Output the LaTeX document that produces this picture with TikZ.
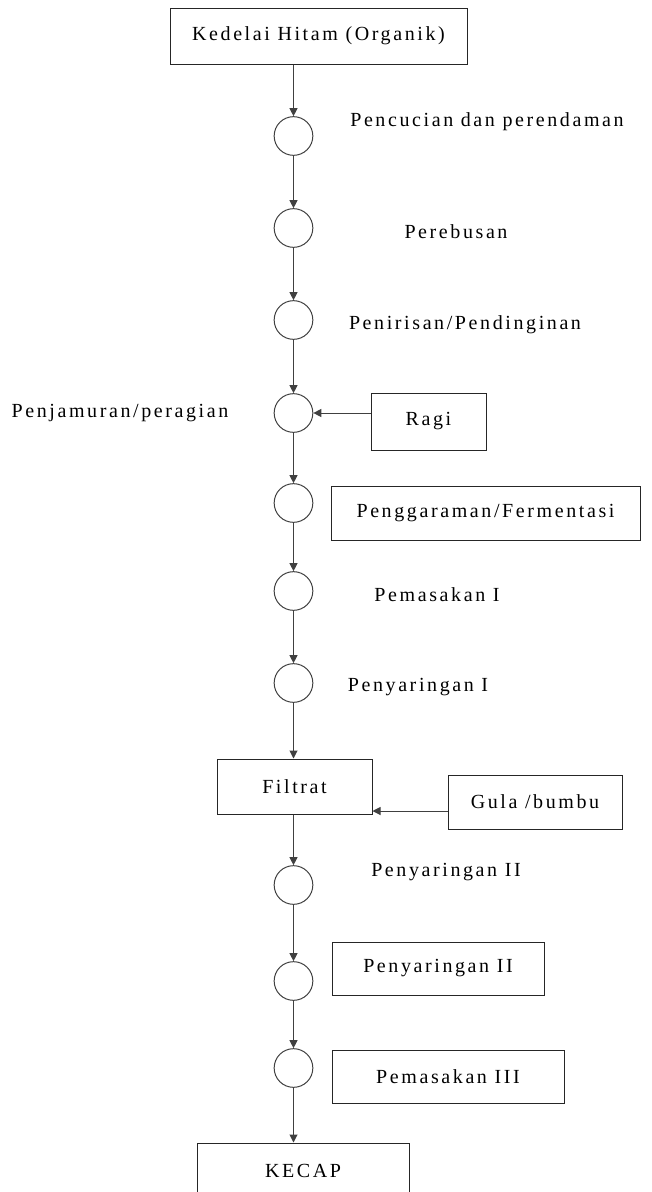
\documentclass[tikz,border=0pt]{standalone}
\usepackage{fontspec}
\setmainfont[LetterSpace=13]{Liberation Serif}
\usetikzlibrary{arrows.meta}

\tikzset{every picture/.style={line width=0.75pt}}

\begin{document}
\begin{tikzpicture}[x=0.75pt,y=0.75pt,yscale=-1,xscale=1,
  font=\fontsize{15}{18}\selectfont,
  proc/.style={draw=black!75, circle, minimum size=29pt, inner sep=0pt},
  box/.style={draw=black!85, rectangle, inner sep=0pt},
  flow/.style={draw=black!75, -{Triangle[length=6pt,width=6pt]}}]
\useasboundingbox (0,0) rectangle (652,1192);

% Box: bahan baku
\node [box, minimum width=222.75pt, minimum height=42pt] (bahan) at (318.5,36) {Kedelai Hitam (Organik)};

% Circles: tahap proses
\node [proc] (p1) at (293.5,136) {};
\node [proc] (p2) at (293.5,228) {};
\node [proc] (p3) at (293.5,320) {};
\node [proc] (p4) at (293.5,413) {};
\node [proc] (p5) at (293.5,503) {};
\node [proc] (p6) at (293.5,591) {};
\node [proc] (p7) at (293.5,683) {};
\node [proc] (p8) at (293.5,885) {};
\node [proc] (p9) at (293.5,981) {};
\node [proc] (p10) at (293.5,1068) {};

% Boxes
\node [box, minimum width=86.25pt, minimum height=42.75pt] (ragi) at (428.5,421.5) {Ragi};
\node [box, minimum width=231.75pt, minimum height=40.5pt] (garam) at (485.5,513) {Penggaraman/Fermentasi};
\node [box, minimum width=116.25pt, minimum height=41.25pt] (filtrat) at (294.5,786.5) {Filtrat};
\node [box, minimum width=130.5pt, minimum height=40.5pt] (gula) at (535,802) {Gula /bumbu};
\node [box, minimum width=159pt, minimum height=39.75pt] (saring) at (438,968.5) {Penyaringan II};
\node [box, minimum width=174pt, minimum height=39.75pt] (masak) at (448,1076.5) {Pemasakan III};
\node [box, minimum width=159pt, minimum height=41.25pt] (kecap) at (303,1170.5) {KECAP};

% Text Node
\node (tcuci) at (487,122) {Pencucian dan perendaman};
% Text Node
\node (trebus) at (456,232) {Perebusan};
% Text Node
\node (ttiris) at (465,325) {Penirisan/Pendinginan};
% Text Node
\node (tjamur) at (120,413) {Penjamuran/peragian};
% Text Node
\node (tmasak) at (437,595) {Pemasakan I};
% Text Node
\node (tsaring) at (418,687) {Penyaringan I};
% Text Node
\node (tsaring2) at (446,872) {Penyaringan II};

% Arrows
\draw [flow] (bahan.south -| p1) -- (p1.north);
\draw [flow] (p1) -- (p2);
\draw [flow] (p2) -- (p3);
\draw [flow] (p3) -- (p4);
\draw [flow] (p4) -- (p5);
\draw [flow] (p5) -- (p6);
\draw [flow] (p6) -- (p7);
\draw [flow] (p7) -- (p7 |- filtrat.north);
\draw [flow] (filtrat.south -| p8) -- (p8.north);
\draw [flow] (p8) -- (p9);
\draw [flow] (p9) -- (p10);
\draw [flow] (p10) -- (p10 |- kecap.north);
\draw [flow] (ragi.west |- p4) -- (p4.east);
\draw [flow] ([yshift=6.75pt]gula.west) -- ([yshift=6.75pt]gula.west -| filtrat.east);

\end{tikzpicture}
\end{document}
